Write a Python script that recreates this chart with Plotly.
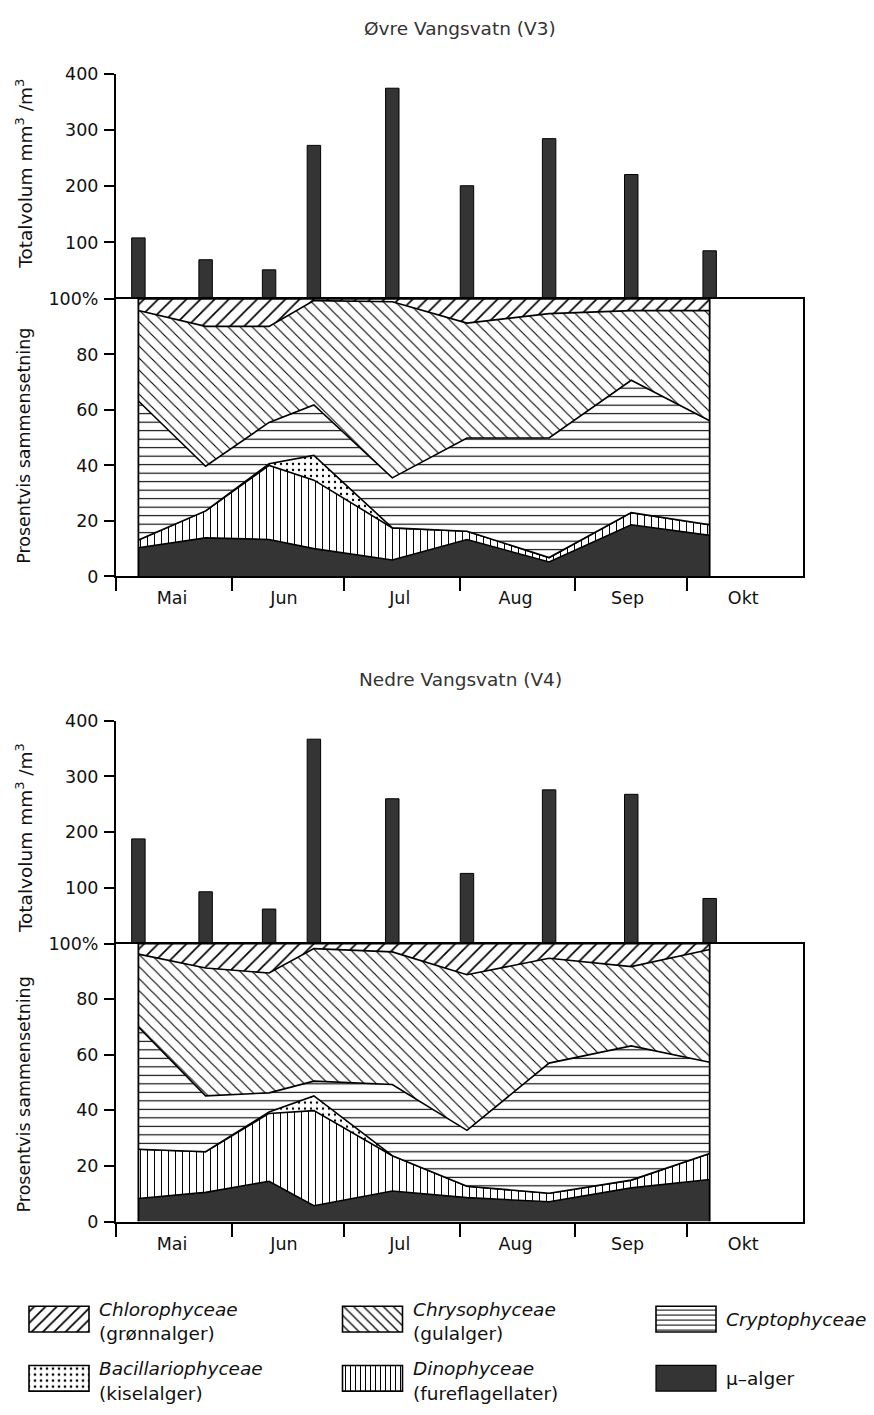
import plotly.graph_objects as go

# page is 874x1415; the html body keeps its default 8 px margin, so the
# figure is sized to fill exactly the remaining area
PAGE_W, PAGE_H = 874, 1415
OFF = 8
W, H = PAGE_W - OFF, PAGE_H - 2 * OFF

# ---------------- data ----------------
sample_dates = ["1978-05-07", "1978-05-25", "1978-06-11", "1978-06-23", "1978-07-14",
                "1978-08-03", "1978-08-25", "1978-09-16", "1978-10-07"]
month_starts = ["1978-05-01", "1978-06-01", "1978-07-01", "1978-08-01", "1978-09-01", "1978-10-01"]
month_mid = ["1978-05-16", "1978-06-15", "1978-07-16", "1978-08-16", "1978-09-15", "1978-10-16"]
month_labels = ["Mai", "Jun", "Jul", "Aug", "Sep", "Okt"]
x_range = ["1978-05-01", "1978-11-01"]

vol_ticks = [100, 200, 300, 400]
pct_ticks = [0, 20, 40, 60, 80, 100]
pct_ticktext = ["0", "20", "40", "60", "80", "100%"]

# Øvre Vangsvatn (V3)
total_v3 = [108, 69, 51, 273, 375, 201, 285, 221, 85]
mu_v3 = [10.3, 13.9, 13.3, 10.0, 5.9, 13.3, 5.2, 18.6, 14.8]
dino_v3 = [2.8, 9.7, 26.7, 24.7, 11.6, 3.0, 1.6, 4.4, 3.8]
bac_v3 = [0, 0, 0.6, 8.9, 0, 0, 0, 0, 0]
crypto_v3 = [50.1, 16.1, 14.9, 18.2, 18.0, 33.6, 43.1, 47.7, 37.5]
chryso_v3 = [32.6, 50.4, 34.6, 37.6, 63.5, 41.4, 44.8, 25.1, 39.7]
chloro_v3 = [4.2, 9.9, 9.9, 0.6, 1.0, 8.7, 5.3, 4.2, 4.2]

# Nedre Vangsvatn (V4)
total_v4 = [188, 93, 62, 367, 260, 126, 276, 268, 81]
mu_v4 = [8.3, 10.5, 14.5, 5.7, 11.0, 8.6, 7.1, 12.1, 15.1]
dino_v4 = [17.7, 14.6, 24.4, 34.2, 12.7, 4.1, 3.1, 2.8, 9.4]
bac_v4 = [0, 0, 0.5, 5.3, 0, 0, 0, 0, 0]
crypto_v4 = [44.0, 20.1, 6.9, 5.3, 25.6, 20.1, 46.8, 48.3, 32.8]
chryso_v4 = [26.2, 46.0, 43.1, 47.7, 47.7, 56.0, 37.7, 28.5, 40.6]
chloro_v4 = [3.8, 8.8, 10.6, 1.8, 3.0, 11.2, 5.3, 8.3, 2.1]

lake_titles = ["Øvre Vangsvatn (V3)", "Nedre Vangsvatn (V4)"]
vol_title = "Totalvolum mm<sup>3</sup> /m<sup>3</sup>"
pct_title = "Prosentvis sammensetning"

group_keys = ["mu", "dino", "bac", "crypto", "chryso", "chloro"]
group_names = ["μ–alger", "Dinophyceae", "Bacillariophyceae", "Cryptophyceae",
               "Chrysophyceae", "Chlorophyceae"]
group_sub = ["", "(fureflagellater)", "(kiselalger)", "", "(gulalger)", "(grønnalger)"]

# legend order (row-major, 3 columns)
legend_order = ["chloro", "chryso", "crypto", "bac", "dino", "mu"]

# ---------------- styles ----------------
FONT = "DejaVu Sans"
DARK = "#343434"
styles = {
    "mu": dict(shape="", size=8, solidity=0.3, fill=DARK),
    "dino": dict(shape="|", size=7, solidity=0.14, fill="white"),
    "bac": dict(shape=".", size=6, solidity=0.12, fill="white"),
    "crypto": dict(shape="-", size=8.5, solidity=0.13, fill="white"),
    "chryso": dict(shape="\\", size=8.5, solidity=0.13, fill="white"),
    "chloro": dict(shape="/", size=10, solidity=0.17, fill="white"),
}
legend_pattern = {"mu": (6, 0.3), "dino": (5, 0.2), "bac": (6, 0.16), "crypto": (5, 0.2),
                  "chryso": (7, 0.18), "chloro": (8, 0.22)}

lakes = [
    dict(total=total_v3, comp=dict(mu=mu_v3, dino=dino_v3, bac=bac_v3, crypto=crypto_v3,
                                   chryso=chryso_v3, chloro=chloro_v3),
         title_y=19, vol=(65, 292.5), pct=(293, 574.5), vol_title_y=166, pct_title_y=442),
    dict(total=total_v4, comp=dict(mu=mu_v4, dino=dino_v4, bac=bac_v4, crypto=crypto_v4,
                                   chryso=chryso_v4, chloro=chloro_v4),
         title_y=679, vol=(721, 947), pct=(947, 1229), vol_title_y=840, pct_title_y=1100),
]

X_LEFT, X_RIGHT = 116, 803   # page pixels of May 1 and Nov 1


def px(xp):
    return (xp - OFF) / W


def py(yp):
    return 1 - (yp - OFF) / H


def ydom(top_px, bottom_px):
    return [py(bottom_px), py(top_px)]


xdom = [px(X_LEFT), px(X_RIGHT)]
tickfont = dict(family=FONT, size=17.5, color="#111")

fig = go.Figure()
annotations = []
shapes = []
layout_axes = {}

for li, lake in enumerate(lakes):
    n_bar = 2 * li + 1
    n_pct = 2 * li + 2
    xb, yb = ("x" if n_bar == 1 else f"x{n_bar}"), ("y" if n_bar == 1 else f"y{n_bar}")
    xp, yp = f"x{n_pct}", f"y{n_pct}"
    kb = "" if n_bar == 1 else str(n_bar)
    kp = str(n_pct)

    # total volume bars
    fig.add_trace(go.Bar(
        x=sample_dates, y=lake["total"], xaxis=xb, yaxis=yb,
        width=3.6 * 86400000, marker=dict(color=DARK, line=dict(color="black", width=1)),
        showlegend=False, hoverinfo="x+y"))

    # stacked percentage composition
    for key in group_keys:
        st = styles[key]
        kw = {}
        if st["shape"]:
            kw["fillpattern"] = dict(shape=st["shape"], size=st["size"], solidity=st["solidity"],
                                     fgcolor="black", bgcolor="white", fillmode="replace")
            kw["fillcolor"] = "white"
        else:
            kw["fillcolor"] = st["fill"]
        fig.add_trace(go.Scatter(
            x=sample_dates, y=lake["comp"][key], xaxis=xp, yaxis=yp,
            stackgroup=f"lake{li}", mode="lines",
            line=dict(color="black", width=1.6), showlegend=False,
            name=group_names[group_keys.index(key)], **kw))

    # vertical edges of the composition area at first and last sampling
    for d in (sample_dates[0], sample_dates[-1]):
        shapes.append(dict(type="line", xref=xp, yref=yp, x0=d, x1=d, y0=0, y1=100,
                           line=dict(color="black", width=1.8), layer="above"))

    layout_axes["xaxis" + kb] = dict(domain=xdom, anchor=yb, type="date", range=x_range,
                                     visible=False)
    layout_axes["yaxis" + kb] = dict(domain=ydom(*lake["vol"]), anchor=xb, range=[0, 400],
                                     tickvals=vol_ticks, ticks="outside", ticklen=10,
                                     tickwidth=1.5, tickcolor="black",
                                     showline=True, linewidth=2, linecolor="black",
                                     showgrid=False, zeroline=False, tickfont=tickfont,
                                     ticklabelstandoff=2)
    layout_axes["xaxis" + kp] = dict(domain=xdom, anchor=yp, type="date", range=x_range,
                                     tickvals=month_mid, ticktext=month_labels,
                                     ticks="outside", ticklen=5, tickcolor="rgba(0,0,0,0)",
                                     minor=dict(tickvals=month_starts, ticks="outside",
                                                ticklen=13, tickwidth=1.5, tickcolor="black",
                                                showgrid=False),
                                     showline=True, mirror=True, linewidth=2,
                                     linecolor="black", showgrid=False, zeroline=False,
                                     tickfont=tickfont)
    layout_axes["yaxis" + kp] = dict(domain=ydom(*lake["pct"]), anchor=xp, range=[0, 100],
                                     tickvals=pct_ticks, ticktext=pct_ticktext,
                                     ticks="outside", ticklen=10, tickwidth=1.5,
                                     tickcolor="black", showline=True, mirror=True,
                                     linewidth=2, linecolor="black", showgrid=False,
                                     zeroline=False, tickfont=tickfont, ticklabelstandoff=2)

    annotations.append(dict(text=lake_titles[li], xref="paper", yref="paper",
                            x=px(460), y=py(lake["title_y"]), showarrow=False,
                            xanchor="center", yanchor="middle",
                            font=dict(family=FONT, size=18.5, color="#333")))
    annotations.append(dict(text=vol_title, xref="paper", yref="paper", x=px(24),
                            y=py(lake["vol_title_y"]), textangle=-90, showarrow=False,
                            xanchor="center", yanchor="middle",
                            font=dict(family=FONT, size=18.5, color="#111")))
    annotations.append(dict(text=pct_title, xref="paper", yref="paper", x=px(24),
                            y=py(lake["pct_title_y"]), textangle=-90, showarrow=False,
                            xanchor="center", yanchor="middle",
                            font=dict(family=FONT, size=17.5, color="#111")))

# ---------------- legend (pattern swatches) ----------------
LEG_TOP, LEG_BOTTOM = 1296, PAGE_H - OFF
col_x0, col_step = 59, 313.5
row_y0, row_step = 1328, 60
sw_w, sw_h = 60, 26
leg_font = dict(family=FONT, size=18.5, color="#111")
for i, key in enumerate(legend_order):
    c, r = i % 3, i // 3
    cx = col_x0 + c * col_step
    cy = row_y0 + r * row_step
    st = styles[key]
    if st["shape"]:
        psize, psol = legend_pattern[key]
        marker = dict(color="white", line=dict(color="black", width=1.6),
                      pattern=dict(shape=st["shape"], size=psize, solidity=psol,
                                   fgcolor="black", bgcolor="white", fillmode="replace"))
    else:
        marker = dict(color=st["fill"], line=dict(color="black", width=1.2))
    fig.add_trace(go.Bar(x=[cx], y=[sw_h], base=[cy - sw_h / 2], width=[sw_w],
                         xaxis="x5", yaxis="y5", marker=marker, showlegend=False,
                         hoverinfo="skip"))
    gi = group_keys.index(key)
    name, sub = group_names[gi], group_sub[gi]
    tx = cx + sw_w / 2 + 8
    if sub:
        annotations.append(dict(text=f"<i>{name}</i>", xref="x5", yref="y5", x=tx, y=cy - 10,
                                showarrow=False, xanchor="left", yanchor="middle",
                                font=leg_font))
        annotations.append(dict(text=sub, xref="x5", yref="y5", x=tx, y=cy + 15,
                                showarrow=False, xanchor="left", yanchor="middle",
                                font=leg_font))
    else:
        annotations.append(dict(text=(f"<i>{name}</i>" if key != "mu" else name),
                                xref="x5", yref="y5", x=tx, y=cy,
                                showarrow=False, xanchor="left", yanchor="middle",
                                font=leg_font))

layout_axes["xaxis5"] = dict(domain=[0, 1], anchor="y5", range=[OFF, PAGE_W], visible=False)
layout_axes["yaxis5"] = dict(domain=ydom(LEG_TOP, LEG_BOTTOM), anchor="x5",
                             range=[LEG_BOTTOM, LEG_TOP], visible=False)

fig.update_layout(
    width=W, height=H, autosize=False,
    margin=dict(l=0, r=0, t=0, b=0),
    paper_bgcolor="white", plot_bgcolor="white",
    barmode="overlay", showlegend=False,
    font=dict(family=FONT, size=17, color="#111"),
    annotations=annotations, shapes=shapes,
    **layout_axes,
)

fig.write_html("out.html")
